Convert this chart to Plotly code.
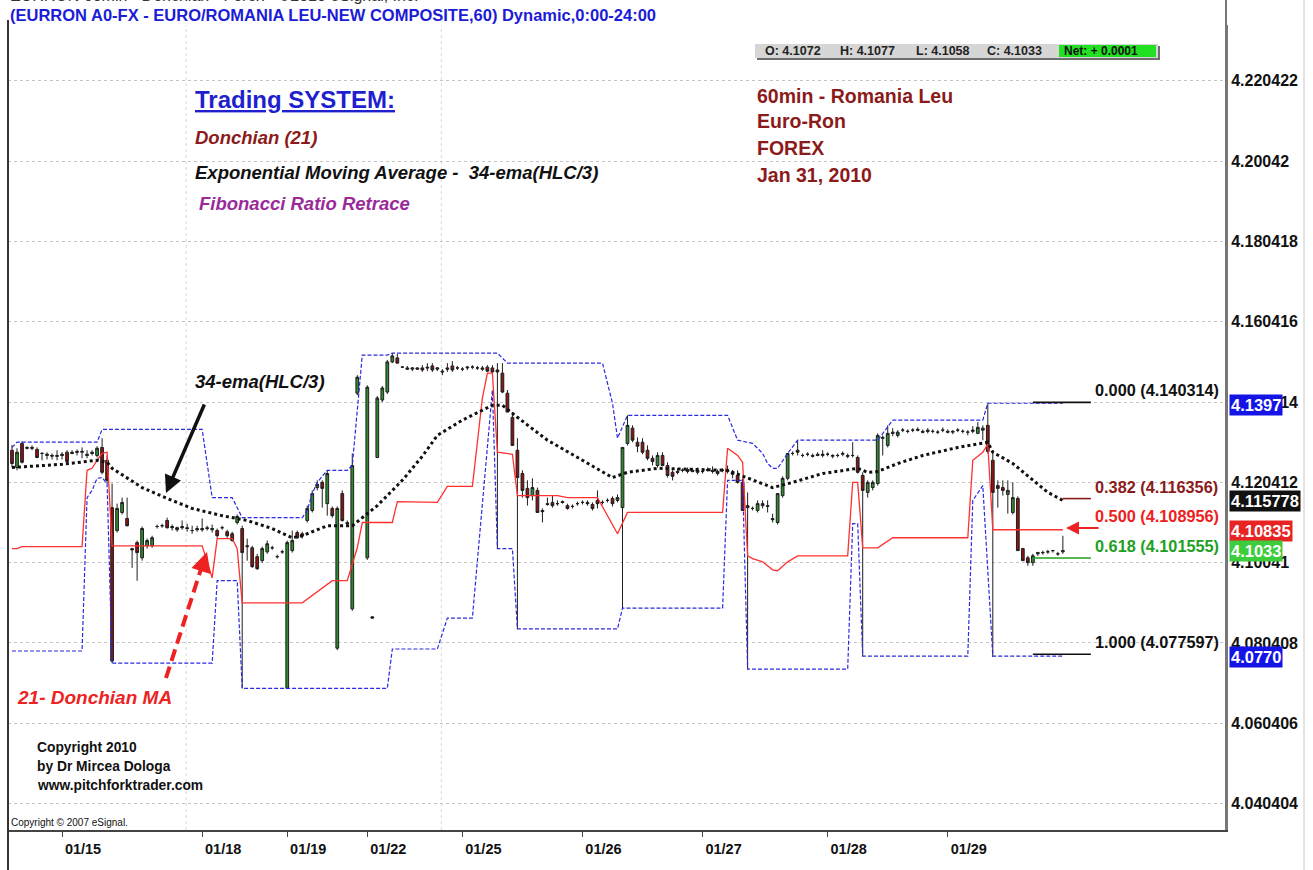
import plotly.graph_objects as go

# ---- EUR/RON 60 min bars (x = bar number) ----
bar_index = list(range(211))

open_px = [
    4.1284, 4.1241, 4.1301, 4.1291, 4.1291, 4.1286, 4.1276, 4.1271, 4.1269, 4.1271,
    4.1274, 4.1279, 4.1279, 4.1281, 4.1279, 4.1274, 4.1279, 4.1271, 4.1291, 4.1259,
    4.1141, 4.1084, 4.1129, 4.1114, 4.1039, 4.1054, 4.1016, 4.1046, 4.1046, 4.1094,
    4.1096, 4.1109, 4.1094, 4.1091, 4.1094, 4.1091, 4.1084, 4.1089, 4.1089, 4.1091,
    4.1086, 4.1084, 4.1091, 4.1081, 4.1076, 4.1104, 4.1089, 4.1046, 4.1041, 4.1019,
    4.1009, 4.1031, 4.1041, 4.1019, 4.1031, 4.0691, 4.1034, 4.1079, 4.1076, 4.1109,
    4.1134, 4.1191, 4.1204, 4.1151, 4.1139, 4.0791, 4.1176, 4.1104, 4.0889, 4.1426,
    None, 4.1016, 4.0869, 4.1266, 4.1409, 4.1429, 4.1504, 4.1514, 4.1491, 4.1489,
    4.1486, 4.1489, 4.1489, 4.1491, 4.1494, 4.1486, 4.1481, 4.1489, 4.1494, 4.1489,
    4.1486, 4.1489, 4.1491, 4.1489, 4.1489, 4.1491, 4.1489, 4.1484, 4.1476, 4.1426,
    4.1366, 4.1284, 4.1226, 4.1189, 4.1171, 4.1184, 4.1134, 4.1151, 4.1154, 4.1151,
    4.1156, 4.1146, 4.1144, 4.1151, 4.1154, 4.1154, 4.1149, 4.1159, 4.1154, 4.1159,
    4.1164, 4.1159, 4.1141, 4.1301, 4.1339, 4.1304, 4.1304, 4.1284, 4.1264, 4.1246,
    4.1271, 4.1246, 4.1229, 4.1231, 4.1234, 4.1236, 4.1234, 4.1234, 4.1231, 4.1236,
    4.1234, 4.1231, 4.1234, 4.1234, 4.1229, 4.1221, 4.1204, 4.1146, 4.1139, 4.1134,
    4.1146, 4.1146, 4.1114, 4.1104, 4.1171, 4.1214, 4.1276, 4.1284, 4.1271, 4.1274,
    4.1271, 4.1274, 4.1271, 4.1274, 4.1269, 4.1271, 4.1274, 4.1271, 4.1271, 4.1266,
    4.1221, 4.1179, 4.1191, 4.1201, 4.1316, 4.1296, 4.1329, 4.1321, 4.1334, 4.1331,
    4.1334, 4.1336, 4.1331, 4.1334, 4.1331, 4.1329, 4.1334, 4.1331, 4.1329, 4.1334,
    4.1331, 4.1329, 4.1331, 4.1326, 4.1334, 4.1346, 4.1259, 4.1196, 4.1191, 4.1174,
    4.1129, 4.1164, 4.1039, 4.1016, 4.1004, 4.1026, 4.1029, 4.1031, 4.1034, 4.1026,
    4.1031,
]
high_px = [
    4.1297, 4.1289, 4.1306, 4.1294, 4.1296, 4.1291, 4.1279, 4.1279, 4.1276, 4.1284,
    4.1279, 4.1284, 4.1284, 4.1286, 4.1291, 4.1284, 4.1284, 4.1294, 4.1314, 4.1271,
    4.1201, 4.1151, 4.1166, 4.1166, 4.1041, 4.1059, 4.1094, 4.1064, 4.1071, 4.1099,
    4.1101, 4.1116, 4.1099, 4.1094, 4.1109, 4.1101, 4.1096, 4.1096, 4.1114, 4.1096,
    4.1099, 4.1089, 4.1096, 4.1086, 4.1081, 4.1124, 4.1096, 4.1064, 4.1046, 4.1026,
    4.1044, 4.1059, 4.1046, 4.1024, 4.1036, 4.1059, 4.1084, 4.1084, 4.1081, 4.1146,
    4.1184, 4.1209, 4.1209, 4.1234, 4.1144, 4.1144, 4.1184, 4.1109, 4.1276, 4.1471,
    None, 4.1446, 4.0871, 4.1419, 4.1444, 4.1509, 4.1526, 4.1524, 4.1494, 4.1494,
    4.1491, 4.1491, 4.1496, 4.1501, 4.1501, 4.1491, 4.1486, 4.1501, 4.1506, 4.1494,
    4.1491, 4.1494, 4.1496, 4.1494, 4.1494, 4.1496, 4.1496, 4.1501, 4.1501, 4.1434,
    4.1379, 4.1314, 4.1234, 4.1209, 4.1214, 4.1191, 4.1139, 4.1166, 4.1171, 4.1159,
    4.1159, 4.1151, 4.1149, 4.1156, 4.1159, 4.1159, 4.1154, 4.1184, 4.1159, 4.1164,
    4.1169, 4.1174, 4.1291, 4.1371, 4.1346, 4.1316, 4.1314, 4.1296, 4.1271, 4.1279,
    4.1279, 4.1254, 4.1234, 4.1239, 4.1239, 4.1241, 4.1239, 4.1241, 4.1236, 4.1241,
    4.1244, 4.1236, 4.1239, 4.1246, 4.1234, 4.1234, 4.1214, 4.1179, 4.1144, 4.1159,
    4.1159, 4.1159, 4.1126, 4.1176, 4.1219, 4.1276, 4.1281, 4.1309, 4.1276, 4.1279,
    4.1276, 4.1279, 4.1284, 4.1279, 4.1274, 4.1276, 4.1281, 4.1276, 4.1304, 4.1271,
    4.1229, 4.1209, 4.1209, 4.1326, 4.1321, 4.1346, 4.1339, 4.1334, 4.1339, 4.1336,
    4.1339, 4.1341, 4.1336, 4.1339, 4.1336, 4.1334, 4.1341, 4.1336, 4.1334, 4.1339,
    4.1336, 4.1334, 4.1344, 4.1354, 4.1346, 4.1401, 4.1284, 4.1209, 4.1209, 4.1209,
    4.1204, 4.1169, 4.1041, 4.1021, 4.1026, 4.1031, 4.1034, 4.1036, 4.1036, 4.1031,
    4.1071,
]
low_px = [
    4.1241, 4.1234, 4.1251, 4.1286, 4.1284, 4.1264, 4.1259, 4.1261, 4.1261, 4.1259,
    4.1261, 4.1251, 4.1274, 4.1271, 4.1264, 4.1264, 4.1271, 4.1266, 4.1224, 4.1201,
    4.0754, 4.1079, 4.1124, 4.1094, 4.0991, 4.0959, 4.1009, 4.1039, 4.1041, 4.1089,
    4.1091, 4.1089, 4.1084, 4.1081, 4.1086, 4.1081, 4.1076, 4.1081, 4.1081, 4.1084,
    4.1079, 4.1066, 4.1086, 4.1066, 4.1056, 4.1099, 4.0691, 4.1009, 4.0991, 4.0986,
    4.1004, 4.1026, 4.1036, 4.1014, 4.1026, 4.0689, 4.1029, 4.1064, 4.1064, 4.1104,
    4.1129, 4.1184, 4.1141, 4.1121, 4.1116, 4.0786, 4.1106, 4.1096, 4.0884, 4.1421,
    None, 4.1011, 4.0864, 4.1264, 4.1404, 4.1424, 4.1501, 4.1499, 4.1489, 4.1484,
    4.1481, 4.1484, 4.1479, 4.1481, 4.1479, 4.1481, 4.1471, 4.1479, 4.1479, 4.1484,
    4.1481, 4.1484, 4.1486, 4.1484, 4.1481, 4.1479, 4.1476, 4.1039, 4.1426, 4.1379,
    4.1296, 4.0839, 4.1166, 4.1146, 4.1159, 4.1129, 4.1104, 4.1146, 4.1141, 4.1146,
    4.1151, 4.1136, 4.1139, 4.1146, 4.1149, 4.1146, 4.1134, 4.1139, 4.1149, 4.1154,
    4.1144, 4.1154, 4.0891, 4.1296, 4.1304, 4.1279, 4.1274, 4.1259, 4.1246, 4.1241,
    4.1244, 4.1216, 4.1209, 4.1224, 4.1229, 4.1226, 4.1229, 4.1224, 4.1226, 4.1231,
    4.1226, 4.1221, 4.1229, 4.1226, 4.1214, 4.1201, 4.1134, 4.0739, 4.1134, 4.1129,
    4.1139, 4.1129, 4.1104, 4.1099, 4.1166, 4.1209, 4.1271, 4.1271, 4.1266, 4.1269,
    4.1266, 4.1269, 4.1266, 4.1269, 4.1264, 4.1266, 4.1269, 4.1264, 4.1266, 4.1226,
    4.0771, 4.1166, 4.1184, 4.1196, 4.1271, 4.1291, 4.1319, 4.1316, 4.1329, 4.1326,
    4.1329, 4.1331, 4.1326, 4.1326, 4.1326, 4.1324, 4.1329, 4.1326, 4.1324, 4.1329,
    4.1326, 4.1321, 4.1326, 4.1324, 4.1309, 4.1276, 4.0769, 4.1141, 4.1171, 4.1126,
    4.1124, 4.1034, 4.1009, 4.0996, 4.0996, 4.1021, 4.1024, 4.1026, 4.1029, 4.1021,
    4.1026,
]
close_px = [
    4.1251, 4.1279, 4.1254, 4.1289, 4.1289, 4.1266, 4.1276, 4.1274, 4.1271, 4.1269,
    4.1271, 4.1256, 4.1276, 4.1279, 4.1281, 4.1271, 4.1276, 4.1289, 4.1229, 4.1209,
    4.0759, 4.1139, 4.1154, 4.1096, 4.1036, 4.1029, 4.1089, 4.1059, 4.1066, 4.1094,
    4.1096, 4.1091, 4.1091, 4.1086, 4.1091, 4.1089, 4.1084, 4.1086, 4.1086, 4.1089,
    4.1089, 4.1071, 4.1091, 4.1071, 4.1059, 4.1119, 4.1029, 4.1044, 4.0994, 4.0989,
    4.1039, 4.1051, 4.1041, 4.1019, 4.1031, 4.1054, 4.1059, 4.1066, 4.1071, 4.1139,
    4.1176, 4.1199, 4.1189, 4.1226, 4.1121, 4.1139, 4.1109, 4.1101, 4.1246, 4.1466,
    None, 4.1441, 4.0866, 4.1414, 4.1439, 4.1504, 4.1519, 4.1501, 4.1491, 4.1486,
    4.1489, 4.1486, 4.1484, 4.1489, 4.1484, 4.1489, 4.1479, 4.1486, 4.1484, 4.1489,
    4.1486, 4.1491, 4.1491, 4.1489, 4.1486, 4.1481, 4.1479, 4.1479, 4.1429, 4.1379,
    4.1296, 4.1216, 4.1184, 4.1166, 4.1191, 4.1129, 4.1131, 4.1149, 4.1146, 4.1151,
    4.1154, 4.1139, 4.1144, 4.1151, 4.1154, 4.1151, 4.1139, 4.1151, 4.1154, 4.1159,
    4.1151, 4.1166, 4.1291, 4.1346, 4.1309, 4.1294, 4.1279, 4.1264, 4.1256, 4.1271,
    4.1246, 4.1221, 4.1219, 4.1229, 4.1234, 4.1231, 4.1231, 4.1229, 4.1231, 4.1234,
    4.1231, 4.1226, 4.1234, 4.1231, 4.1224, 4.1204, 4.1134, 4.1141, 4.1139, 4.1151,
    4.1151, 4.1144, 4.1111, 4.1176, 4.1214, 4.1276, 4.1276, 4.1279, 4.1271, 4.1274,
    4.1269, 4.1271, 4.1274, 4.1274, 4.1271, 4.1271, 4.1276, 4.1269, 4.1271, 4.1229,
    4.1184, 4.1204, 4.1204, 4.1321, 4.1314, 4.1326, 4.1326, 4.1329, 4.1334, 4.1331,
    4.1334, 4.1334, 4.1329, 4.1331, 4.1331, 4.1329, 4.1334, 4.1329, 4.1331, 4.1334,
    4.1331, 4.1329, 4.1334, 4.1341, 4.1339, 4.1281, 4.1179, 4.1189, 4.1184, 4.1184,
    4.1166, 4.1034, 4.1009, 4.1004, 4.1021, 4.1029, 4.1029, 4.1031, 4.1034, 4.1026,
    4.1034,
]

# Donchian (21) channel, read at its turning points
upper_bar = [0, 1, 17, 18, 38, 40, 44, 46, 58, 59, 60, 61, 63, 67, 68, 70, 75, 76, 97, 99,
             118, 120, 121, 123, 143, 145, 148, 150, 151, 152, 153, 155, 157, 173, 176, 194, 195, 210]
upper_val = [4.1291, 4.1304, 4.1304, 4.1336, 4.1336, 4.1166, 4.1166, 4.1116, 4.1116, 4.1134,
             4.1176, 4.1204, 4.1234, 4.1234, 4.1246, 4.1521, 4.1521, 4.1526, 4.1526, 4.1501,
             4.1501, 4.1401, 4.1314, 4.1371, 4.1371, 4.1309, 4.1301, 4.1276, 4.1251, 4.1239,
             4.1239, 4.1276, 4.1309, 4.1309, 4.1359, 4.1359, 4.1401, 4.1401]
lower_bar = [0, 14, 15, 16, 17, 18, 19, 20, 40, 41, 45, 46, 75, 76, 85, 87, 92, 96, 97, 100,
             101, 121, 122, 142, 143, 146, 147, 167, 168, 169, 170, 191, 192, 194, 196, 210]
lower_val = [4.0784, 4.0784, 4.1166, 4.1184, 4.1214, 4.1216, 4.1201, 4.0754, 4.0754, 4.0959,
             4.0959, 4.0691, 4.0691, 4.0789, 4.0789, 4.0866, 4.0866, 4.1434, 4.1039, 4.1039,
             4.0839, 4.0839, 4.0891, 4.0891, 4.1209, 4.1209, 4.0739, 4.0739, 4.1101, 4.1101,
             4.0771, 4.0771, 4.1159, 4.1196, 4.0771, 4.0771]
mid_bar = [0, 1, 2, 14, 15, 16, 17, 18, 19, 20, 38, 40, 41, 44, 45, 46, 58, 62, 64, 67,
           69, 70, 76, 77, 85, 87, 92, 94, 95, 96, 97, 100, 101, 109, 111, 117, 121, 123, 142, 143,
           145, 146, 147, 148, 150, 152, 153, 155, 157, 167, 168, 169, 170, 173, 176, 191, 192, 194,
           195, 196, 210]
mid_val = [4.1039, 4.1039, 4.1044, 4.1044, 4.1234, 4.1239, 4.1259, 4.1276, 4.1279, 4.1046,
           4.1046, 4.0966, 4.1064, 4.1064, 4.1039, 4.0904, 4.0904, 4.0941, 4.0959, 4.0959,
           4.1041, 4.1104, 4.1104, 4.1156, 4.1154, 4.1194, 4.1194, 4.1414, 4.1476, 4.1476,
           4.1279, 4.1274, 4.1171, 4.1171, 4.1166, 4.1166, 4.1076, 4.1129, 4.1129, 4.1289,
           4.1271, 4.1254, 4.1021, 4.1014, 4.1006, 4.0986, 4.0984, 4.1006, 4.1021, 4.1021,
           4.1204, 4.1204, 4.1041, 4.1041, 4.1066, 4.1066, 4.1259, 4.1279, 4.1299, 4.1086,
           4.1086]

# 34-ema(HLC/3)
ema_bar = [0, 10, 17, 19, 20, 26, 31, 36, 42, 47, 52, 56, 58, 63, 68, 70, 73, 78, 82, 85,
           90, 96, 98, 101, 107, 114, 120, 123, 129, 143, 148, 152, 156, 162, 169, 171, 173, 177,
           182, 189, 195, 196, 200, 204, 207, 210]
ema_val = [4.1241, 4.1249, 4.1259, 4.1254, 4.1239, 4.1191, 4.1164, 4.1139, 4.1121, 4.1109,
           4.1089, 4.1066, 4.1071, 4.1096, 4.1096, 4.1116, 4.1146, 4.1209, 4.1269, 4.1321,
           4.1359, 4.1396, 4.1396, 4.1366, 4.1309, 4.1259, 4.1216, 4.1229, 4.1239, 4.1234,
           4.1209, 4.1191, 4.1204, 4.1226, 4.1239, 4.1229, 4.1231, 4.1251, 4.1271, 4.1291,
           4.1304, 4.1279, 4.1251, 4.1209, 4.1179, 4.1159]

# Fibonacci retrace
fib_ratio = ["0.000", "0.382", "0.500", "0.618", "1.000"]
fib_level = [4.140314, 4.116356, 4.108956, 4.101555, 4.077597]
fib_from_bar = [204, 210, None, 204, 204]
fib_to_bar = 215.6
fib_colors = ["#111111", "#8b1a1a", "#ee2020", "#1f9f1f", "#111111"]

day_labels = ["01/15", "01/18", "01/19", "01/22", "01/25", "01/26", "01/27", "01/28", "01/29"]
day_start_bar = [10, 38, 55, 71, 90, 114, 138, 163, 187]

price_ticks = [4.040404, 4.060406, 4.080408, 4.10041, 4.120412, 4.140414,
               4.160416, 4.180418, 4.20042, 4.220422]
price_tick_text = ["4.040404", "4.060406", "4.080408", "4.10041", "4.120412", "4.140414",
                   "4.160416", "4.180418", "4.20042", "4.220422"]

marker_vals = [4.1397, 4.115778, 4.10835, 4.1033, 4.0770]
marker_text = ["4.1397", "4.115778", "4.10835", "4.1033", "4.0770"]
marker_bg = ["#1414e6", "#111111", "#e82323", "#3ccc3c", "#1414e6"]

ohlc_text = ["O: 4.1072", "H: 4.1077", "L: 4.1058", "C: 4.1033"]
net_text = "Net: + 0.0001"

FONT = "Arial, Liberation Sans, sans-serif"
W, H = 1313, 870
L, R, T, B = 8, 87, 25, 40


def px2paper(px, py):
    return (px - L) / (W - L - R), 1 - (py - T) / (H - T - B)


def label(px, py, text, color="#000", size=14, bold=True, italic=False, anchor="left"):
    x, y = px2paper(px, py)
    t = text
    if italic:
        t = "<i>" + t + "</i>"
    if bold:
        t = "<b>" + t + "</b>"
    return dict(x=x, y=y, xref="paper", yref="paper", text=t, showarrow=False,
                xanchor=anchor, yanchor="middle", font=dict(family=FONT, size=size, color=color))


fig = go.Figure()

fig.add_trace(go.Candlestick(
    x=bar_index, open=open_px, high=high_px, low=low_px, close=close_px,
    increasing=dict(line=dict(color="#1e1e1e", width=1), fillcolor="#2f8a2f"),
    decreasing=dict(line=dict(color="#1e1e1e", width=1), fillcolor="#8b1414"),
    whiskerwidth=0, hoverinfo="skip"))

blue = "#2a2ae0"
fig.add_trace(go.Scatter(x=upper_bar, y=upper_val, mode="lines",
                         line=dict(color=blue, width=1.2, dash="4px,2px")))
fig.add_trace(go.Scatter(x=lower_bar, y=lower_val, mode="lines",
                         line=dict(color=blue, width=1.2, dash="4px,2px")))
fig.add_trace(go.Scatter(x=mid_bar, y=mid_val, mode="lines",
                         line=dict(color="#ff3030", width=1.3)))
fig.add_trace(go.Scatter(x=ema_bar, y=ema_val, mode="lines",
                         line=dict(color="#111111", width=3, dash="3px,3px")))

for start, lvl, col in zip(fib_from_bar, fib_level, fib_colors):
    if start is None:
        continue
    fig.add_trace(go.Scatter(x=[start, fib_to_bar], y=[lvl, lvl], mode="lines",
                             line=dict(color=col, width=1.6)))

ann = []
# header texts
ann.append(label(8, -4, "EURRON 60min - Donchian - Forex - ©2010 eSignal, Inc.", "#333", 16, bold=False))
ann.append(label(8, 15, "(EURRON A0-FX - EURO/ROMANIA LEU-NEW COMPOSITE,60) Dynamic,0:00-24:00", "#1c1cd6", 16.5))

# OHLC strip
for txt, px in zip(ohlc_text, [763, 838, 914, 985]):
    ann.append(label(px, 51, txt, "#222", 12.5))
ann.append(label(1062, 51, net_text, "#111", 12))

ann.append(label(193, 99, "<u>Trading SYSTEM:</u>", "#1f1fd0", 24))
ann.append(label(193, 137, "Donchian (21)", "#8b1a1a", 18.5, italic=True))
ann.append(label(193, 173, "Exponential Moving Average -  34-ema(HLC/3)", "#111", 18.5, italic=True))
ann.append(label(197, 204, "Fibonacci Ratio Retrace", "#9a2a9a", 18.5, italic=True))
for txt, py in zip(["60min - Romania Leu", "Euro-Ron", "FOREX", "Jan 31, 2010"], [96, 121, 148, 175]):
    ann.append(label(755, py, txt, "#8b1a1a", 19.5))
ann.append(label(193, 381, "34-ema(HLC/3)", "#111", 18.5, italic=True))
ann.append(label(15, 697, "21- Donchian MA", "#ee2222", 19, italic=True))
for txt, py in zip(["Copyright 2010", "by Dr Mircea Dologa", "www.pitchforktrader.com"], [747, 766, 785]):
    ann.append(label(35, py, txt, "#111", 13.8))
ann.append(label(9, 822, "Copyright © 2007 eSignal.", "#111", 10, bold=False))

# fib labels
for r, lvl, col in zip(fib_ratio, fib_level, fib_colors):
    ann.append(dict(x=216, y=lvl, xref="x", yref="y", text="<b>%s (%.6f)</b>" % (r, lvl),
                    showarrow=False, xanchor="left", yanchor="middle", yshift=12,
                    font=dict(family=FONT, size=16.3, color=col)))

# price flags on the right scale
for v, t, bg in zip(marker_vals, marker_text, marker_bg):
    ann.append(dict(x=1, y=v, xref="paper", yref="y", text="<b>%s</b>" % t, showarrow=False,
                    xanchor="left", yanchor="middle", xshift=3, bgcolor=bg, borderpad=1,
                    font=dict(family=FONT, size=16.5, color="white")))

# arrows
hx, hy = px2paper(166, 493)
ann.append(dict(x=hx, y=hy, xref="paper", yref="paper", text="", showarrow=True,
                ax=39, ay=-90, arrowhead=2, arrowsize=1, arrowwidth=3.5, arrowcolor="#111"))
hx, hy = px2paper(207, 552)
ann.append(dict(x=hx, y=hy, xref="paper", yref="paper", text="", showarrow=True,
                ax=-5, ay=16, arrowhead=2, arrowsize=1, arrowwidth=4, arrowcolor="#ee2222"))
hx, hy = px2paper(1066, 528)
ann.append(dict(x=hx, y=hy, xref="paper", yref="paper", text="", showarrow=True,
                ax=34, ay=0, arrowhead=2, arrowsize=1.3, arrowwidth=2, arrowcolor="#ee2222"))

shapes = []
# OHLC strip boxes
x0, y0 = px2paper(757, 46); x1, y1 = px2paper(1160, 60)
shapes.append(dict(type="rect", xref="paper", yref="paper", x0=x0, y0=y0, x1=x1, y1=y1,
                   fillcolor="#6e6e6e", line=dict(width=0)))
x0, y0 = px2paper(755, 44); x1, y1 = px2paper(1158, 58)
shapes.append(dict(type="rect", xref="paper", yref="paper", x0=x0, y0=y0, x1=x1, y1=y1,
                   fillcolor="#d6d6d6", line=dict(width=0)))
x0, y0 = px2paper(1059, 45); x1, y1 = px2paper(1156, 57)
shapes.append(dict(type="rect", xref="paper", yref="paper", x0=x0, y0=y0, x1=x1, y1=y1,
                   fillcolor="#22e022", line=dict(width=0)))
# dashed red pointer
x0, y0 = px2paper(166, 678); x1, y1 = px2paper(201, 569)
shapes.append(dict(type="line", xref="paper", yref="paper", x0=x0, y0=y0, x1=x1, y1=y1,
                   line=dict(color="#ee2222", width=4, dash="12px,6px")))
# frame
_, yb = px2paper(0, 870)
_, yt = px2paper(0, 20)
shapes.append(dict(type="line", xref="paper", yref="paper", x0=0, x1=0, y0=yb, y1=yt,
                   line=dict(color="#333", width=2)))
_, ytop = px2paper(0, 0)
shapes.append(dict(type="line", xref="paper", yref="paper", x0=1, x1=1, y0=0, y1=ytop,
                   line=dict(color="#777", width=2)))
xr, _ = px2paper(1304, 0)
shapes.append(dict(type="line", xref="paper", yref="paper", x0=xr, x1=xr, y0=yb, y1=ytop,
                   line=dict(color="#c8c8c8", width=1)))
for gx in [34.8, 85.8]:
    shapes.append(dict(type="line", xref="x", yref="paper", x0=gx, x1=gx, y0=0, y1=1,
                       line=dict(color="#d8d8d8", width=1, dash="dot"), layer="below"))

fig.update_layout(
    width=W, height=H, margin=dict(l=L, r=R, t=T, b=B),
    paper_bgcolor="white", plot_bgcolor="white", showlegend=False,
    font=dict(family=FONT), boxgap=0.22,
    annotations=ann, shapes=shapes,
    xaxis=dict(range=[-0.8, 242.6], rangeslider=dict(visible=False), showgrid=False,
               zeroline=False, showline=True, linecolor="#444", linewidth=2,
               tickmode="array", tickvals=day_start_bar, ticktext=day_labels,
               ticks="outside", ticklen=5, tickcolor="#444", ticklabelshift=21,
               tickfont=dict(family=FONT, size=14.5, color="#111", weight="bold")),
    yaxis=dict(range=[4.033814, 4.234312], side="right", showgrid=True,
               gridcolor="#c4c4c4", griddash="dot", gridwidth=1, zeroline=False,
               showline=True, linecolor="#777", linewidth=2,
               tickmode="array", tickvals=price_ticks, ticktext=price_tick_text, ticks="",
               tickfont=dict(family=FONT, size=16, color="#111", weight="bold")),
)

fig.write_html("out.html", config={"displayModeBar": False},
               post_script="document.body.style.margin='0px';document.body.style.overflow='hidden';")
